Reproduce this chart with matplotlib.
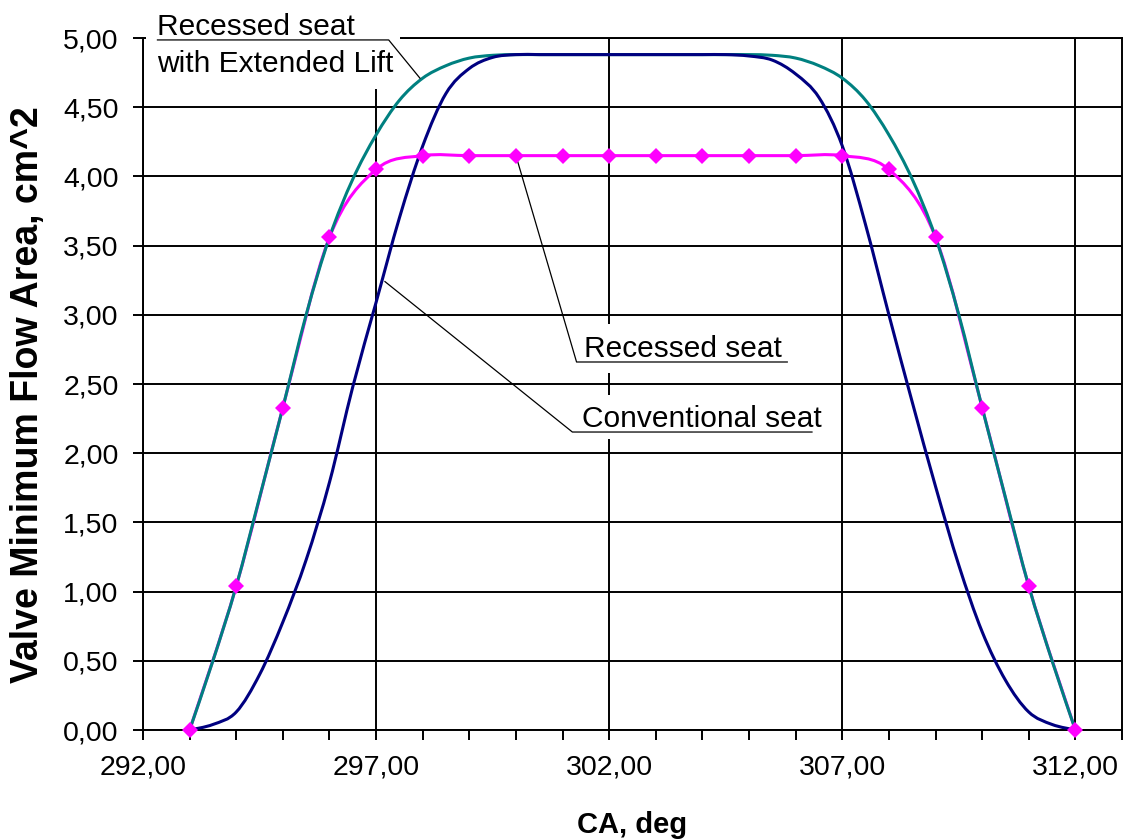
import numpy as np
import matplotlib
matplotlib.use("Agg")
import matplotlib.pyplot as plt
from matplotlib.path import Path
from matplotlib.patches import PathPatch, Rectangle
from matplotlib.ticker import FixedLocator, FuncFormatter

# ---- data -------------------------------------------------------------
# crank angle of the marked points (recessed seat)
ca_marked = [293, 294, 295, 296, 297, 298, 299, 300, 301, 302,
             303, 304, 305, 306, 307, 308, 309, 310, 311, 312]
recessed_seat = [0.00, 1.04, 2.33, 3.56, 4.05, 4.15, 4.15, 4.15, 4.15, 4.15,
                 4.15, 4.15, 4.15, 4.15, 4.15, 4.05, 3.56, 2.33, 1.04, 0.00]

# crank angle on a half-degree grid for the two unmarked curves
ca_half = [293.0, 293.5, 294.0, 294.5, 295.0, 295.5, 296.0, 296.5, 297.0, 297.5,
           298.0, 298.5, 299.0, 299.5, 300.0, 300.5, 301.0, 301.5, 302.0, 302.5,
           303.0, 303.5, 304.0, 304.5, 305.0, 305.5, 306.0, 306.5, 307.0, 307.5,
           308.0, 308.5, 309.0, 309.5, 310.0, 310.5, 311.0, 311.5, 312.0]
extended_lift = [0.00, 0.50, 1.04, 1.68, 2.33, 3.00, 3.56, 3.98, 4.30, 4.55,
                 4.71, 4.80, 4.855, 4.875, 4.88, 4.88, 4.88, 4.88, 4.88, 4.88,
                 4.88, 4.88, 4.88, 4.88, 4.88, 4.875, 4.855, 4.80, 4.71, 4.55,
                 4.30, 3.98, 3.56, 3.00, 2.33, 1.68, 1.04, 0.50, 0.00]
conventional_seat = [0.00, 0.04, 0.13, 0.40, 0.78, 1.23, 1.79, 2.48, 3.09, 3.70,
                     4.22, 4.60, 4.78, 4.86, 4.88, 4.88, 4.88, 4.88, 4.88, 4.88,
                     4.88, 4.88, 4.88, 4.88, 4.87, 4.84, 4.74, 4.57, 4.22, 3.65,
                     3.00, 2.37, 1.76, 1.19, 0.71, 0.36, 0.13, 0.04, 0.00]

x_major = [292, 297, 302, 307, 312]
x_minor = list(range(292, 314))
y_major = [0.0, 0.5, 1.0, 1.5, 2.0, 2.5, 3.0, 3.5, 4.0, 4.5, 5.0]

TEAL = "#008080"
NAVY = "#000080"
MAGENTA = "#FF00FF"
FONT = "Liberation Sans"


def smooth_path(xs, ys):
    """Smoothed polyline through the points (cubic Bezier, Catmull-Rom tangents)."""
    pts = np.column_stack([xs, ys]).astype(float)
    n = len(pts)
    verts = [pts[0]]
    codes = [Path.MOVETO]
    for i in range(n - 1):
        p0 = pts[i - 1] if i > 0 else pts[i]
        p1 = pts[i]
        p2 = pts[i + 1]
        p3 = pts[i + 2] if i + 2 < n else pts[i + 1]
        verts += [p1 + (p2 - p0) / 6.0, p2 - (p3 - p1) / 6.0, p2]
        codes += [Path.CURVE4] * 3
    return Path(verts, codes)


fig = plt.figure(figsize=(11.26, 8.4), dpi=100)
fig.patch.set_facecolor("white")
ax = fig.add_axes([143 / 1126, 1 - 730 / 840, (1122 - 143) / 1126, (730 - 38) / 840])

ax.set_xlim(292, 313)
ax.set_ylim(0, 5)

# axes frame, ticks and grid
for s in ax.spines.values():
    s.set_color("black")
    s.set_linewidth(1.4)
ax.set_axisbelow(True)
ax.xaxis.set_major_locator(FixedLocator(x_major))
ax.xaxis.set_minor_locator(FixedLocator(x_minor))
ax.yaxis.set_major_locator(FixedLocator(y_major))
comma_fmt = FuncFormatter(lambda v, p: f"{v:.2f}".replace(".", ","))
ax.xaxis.set_major_formatter(comma_fmt)
ax.yaxis.set_major_formatter(comma_fmt)
ax.tick_params(axis="both", which="both", direction="out", length=7.5, width=1.4,
               color="black", labelsize=20.5, labelcolor="black")
ax.tick_params(axis="x", which="major", pad=10)
ax.tick_params(axis="y", which="major", pad=10)
for lbl in ax.get_xticklabels() + ax.get_yticklabels():
    lbl.set_fontfamily(FONT)
ax.grid(True, which="major", color="black", linewidth=1.4)

ax.set_xlabel("CA, deg", fontsize=21, fontweight="bold", fontfamily=FONT)
ax.xaxis.set_label_coords(0.5, -0.117)
ax.set_ylabel("Valve Minimum Flow Area, cm^2", fontsize=27, fontweight="bold",
              fontfamily=FONT)
ax.yaxis.set_label_coords(-0.099, 0.485)

# curves
ax.add_patch(PathPatch(smooth_path(ca_marked, recessed_seat), fill=False,
                       edgecolor=MAGENTA, linewidth=2.2, zorder=3))
ax.add_patch(PathPatch(smooth_path(ca_half, extended_lift), fill=False,
                       edgecolor=TEAL, linewidth=2.2, zorder=4))
ax.add_patch(PathPatch(smooth_path(ca_half, conventional_seat), fill=False,
                       edgecolor=NAVY, linewidth=2.2, zorder=4.5))
ax.plot(ca_marked, recessed_seat, linestyle="none", marker="D", markersize=8,
        color=MAGENTA, markeredgewidth=0, zorder=6, clip_on=False)

# callout labels: white backing, text, underline and leader line
label_font = dict(fontsize=21.5, fontfamily=FONT, color="black", zorder=7,
                  clip_on=False)
lead = dict(color="black", linewidth=0.9, zorder=5, clip_on=False)

ax.add_patch(Rectangle((292.06, 4.63), 5.45, 0.40, facecolor="white",
                       edgecolor="none", zorder=2.6, clip_on=False))
ax.text(292.31, 5.02, "Recessed seat", ha="left", va="baseline", **label_font)
ax.text(292.31, 4.754, "with Extended Lift", ha="left", va="baseline", **label_font)
ax.plot([292.31, 297.27, 297.94], [4.986, 4.986, 4.71], **lead)

ax.add_patch(Rectangle((301.25, 2.58), 4.65, 0.35, facecolor="white",
                       edgecolor="none", zorder=2.6))
ax.text(301.45, 2.695, "Recessed seat", ha="left", va="baseline", **label_font)
ax.plot([305.82, 301.30, 300.0], [2.659, 2.659, 4.15], **lead)

ax.add_patch(Rectangle((301.15, 2.10), 5.25, 0.32, facecolor="white",
                       edgecolor="none", zorder=2.6))
ax.text(301.41, 2.19, "Conventional seat", ha="left", va="baseline", **label_font)
ax.plot([306.35, 301.21, 297.19], [2.153, 2.153, 3.24], **lead)

fig.savefig("out.png", dpi=100, facecolor="white")
